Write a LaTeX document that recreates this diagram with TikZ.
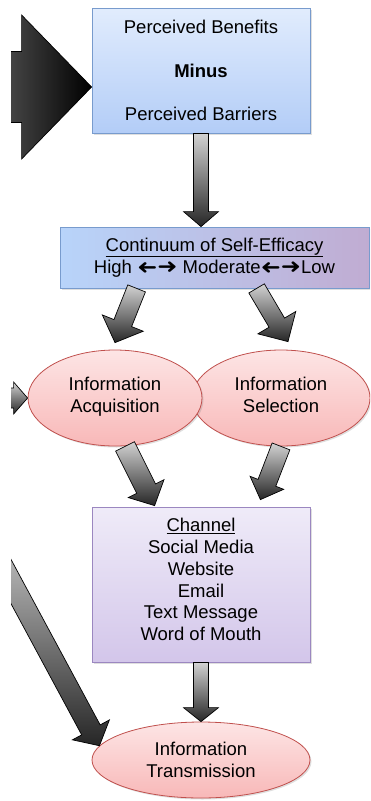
\documentclass[tikz,border=0pt]{standalone}
\usepackage{fontspec}
\setmainfont{Liberation Sans}
\newfontfamily\arrowfont{DejaVu Sans}
\usepackage{tikz}
\usetikzlibrary{calc,shadows,shapes.geometric}

\definecolor{bluetop}{RGB}{225,236,253}
\definecolor{bluebot}{RGB}{179,205,247}
\definecolor{blueline}{RGB}{120,155,205}
\definecolor{effleft}{RGB}{184,212,250}
\definecolor{effmid}{RGB}{214,226,250}
\definecolor{effright}{RGB}{192,172,210}
\definecolor{redtop}{RGB}{253,229,229}
\definecolor{redbot}{RGB}{248,184,184}
\definecolor{redline}{RGB}{192,80,77}
\definecolor{lilactop}{RGB}{239,235,248}
\definecolor{lilacbot}{RGB}{211,198,234}
\definecolor{lilacline}{RGB}{155,135,192}

\tikzset{
  every node/.style={font=\fontsize{18.5}{21.7}\selectfont, align=center, inner sep=0pt},
  softshadow/.style={drop shadow={opacity=0.25, shadow xshift=1.5pt, shadow yshift=-1.5pt}},
  bluebox/.style={rectangle, draw=blueline, line width=0.8pt, top color=bluetop, bottom color=bluebot, softshadow},
  effbox/.style={rectangle, draw=blueline, line width=0.8pt, left color=effleft, middle color=effmid, right color=effright, softshadow},
  lilacbox/.style={rectangle, draw=lilacline, line width=0.8pt, top color=lilactop, bottom color=lilacbot, softshadow},
  bubble/.style={ellipse, draw=redline, line width=0.8pt, top color=redtop, bottom color=redbot, softshadow},
  fatarrow/.style={draw=black, line width=0.7pt, top color=gray!35, bottom color=black!85},
  bigarrow/.style={draw=black, line width=0.7pt, left color=black!70, right color=black},
}

% heavy arrows inside the text
\newcommand{\lrarrows}{{\arrowfont\scalebox{1.3}[1.1]{\rotatebox[origin=c]{180}{➜}➜}}}

% block arrow: [style] {tail} {tip} {shaft half width} {head half width} {head length}
\newcommand{\blockarrow}[6][fatarrow]{%
  \coordinate (hb) at ($(#3)!#6!(#2)$);
  \draw[#1] ($(#2)!#4!90:(#3)$) -- ($(hb)!#4!90:(#3)$) -- ($(hb)!#5!90:(#3)$)
    -- (#3) -- ($(hb)!#5!-90:(#3)$) -- ($(hb)!#4!-90:(#3)$) -- ($(#2)!#4!-90:(#3)$) -- cycle;
}

\begin{document}
\begin{tikzpicture}[x=1pt,y=-1pt]
\useasboundingbox (0,0) rectangle (370,801);
\clip (11,0) rectangle (370,801);

\node[bluebox, minimum width=218, minimum height=125] (benefits) at (201,70.5)
  {Perceived Benefits\\[21.8pt]\textbf{Minus}\\[21.8pt]Perceived Barriers};

\node[effbox, minimum width=309, minimum height=61] (efficacy) at (214.5,257.5)
  {\underline{Continuum of Self-Efficacy}\\High \lrarrows\ Moderate\lrarrows Low};

\node[bubble, minimum width=178, minimum height=96] (select) at (281,398) {Information\\Selection\\[-15.7pt]\mbox{}};
\node[bubble, minimum width=174, minimum height=96] (acquire) at (115,398) {Information\\Acquisition\\[-15.7pt]\mbox{}};

\node[lilacbox, minimum width=218, minimum height=155] (channel) at (201,584.5)
  {\underline{Channel}\\Social Media\\Website\\Email\\Text Message\\Word of Mouth\\[-11.7pt]\mbox{}};

\node[bubble, minimum width=218, minimum height=76] (transmit) at (201,760) {Information\\Transmission};

\coordinate (bigtail) at (0,87);
\coordinate (smalltail) at (0,398);
\coordinate (longtail) at (-20,524);

\blockarrow[bigarrow]{bigtail}{$(benefits.west)+(0,16.5)$}{35.5pt}{72pt}{70pt}
\blockarrow{benefits.south}{benefits.south |- efficacy.north}{7.5pt}{17.5pt}{15pt}
\blockarrow{$(efficacy.south west)+(77,0)$}{$(acquire.north)+(0,-7)$}{9.5pt}{22pt}{21pt}
\blockarrow{$(efficacy.south west)+(197,0)$}{$(select.north)+(7,-8)$}{9pt}{22pt}{22pt}
\blockarrow{smalltail}{acquire.west}{10pt}{16pt}{14pt}
\blockarrow{$(acquire.south)+(10,0)$}{$(channel.north west)+(63,-1)$}{10.5pt}{20pt}{19pt}
\blockarrow{select.south}{$(channel.north east)+(-50,-7)$}{9.5pt}{18pt}{18pt}
\blockarrow{channel.south}{transmit.north}{7.5pt}{17.5pt}{14pt}
\blockarrow{longtail}{transmit.172}{10.5pt}{21pt}{18pt}
\end{tikzpicture}
\end{document}
